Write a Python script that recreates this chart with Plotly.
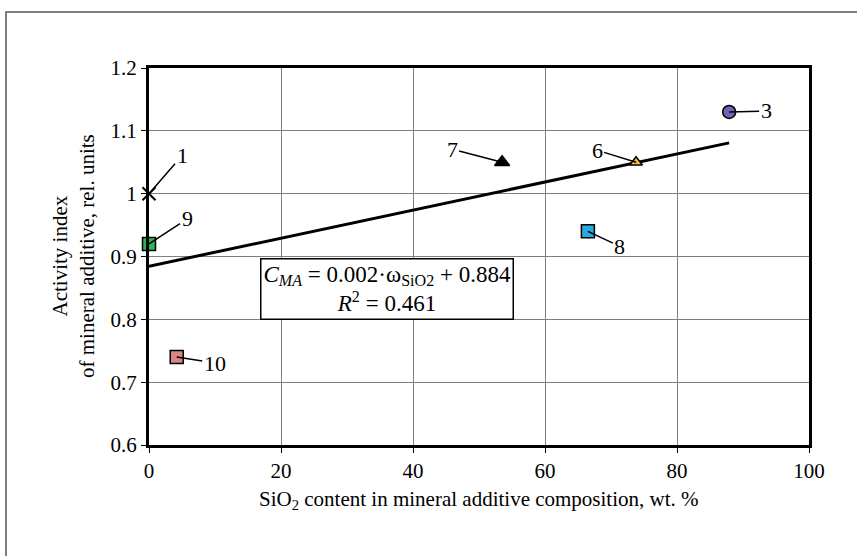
import numpy as np
import plotly.graph_objects as go

# Data
labels = ["1", "9", "10", "7", "6", "8", "3"]
sio2 = [0.0, 0.0, 4.2, 53.5, 73.8, 66.5, 87.9]
activity = [1.00, 0.92, 0.74, 1.05, 1.05, 0.94, 1.13]
symbols = ["x-thin", "square", "square", "triangle-up", "triangle-up", "square", "circle"]
colors = ["#000000", "#2fb35a", "#d98585", "#000000", "#f2c230", "#2aa9e0", "#7461b0"]
sizes = [13, 13, 13, 13, 11, 13, 13]
# label offsets (pixels) for callouts
label_dx = [33, 38, 38, -50, -39, 32, 37]
label_dy = [-38, -25, 6, -13, -12, 15, -1]

x_ticks = [0, 20, 40, 60, 80, 100]
y_ticks = [0.6, 0.7, 0.8, 0.9, 1.0, 1.1, 1.2]
y_ticktext = ["0.6", "0.7", "0.8", "0.9", "1", "1.1", "1.2"]

slope, intercept = np.polyfit(sio2, activity, 1)
x_fit = np.array([0.0, max(sio2)])
y_fit = slope * x_fit + intercept

FONT = "Liberation Serif, Times New Roman, serif"

fig = go.Figure()
fig.add_trace(go.Scatter(x=x_fit, y=y_fit, mode="lines",
                         line=dict(color="black", width=3), hoverinfo="skip"))
for i in range(len(sio2)):
    if symbols[i] == "x-thin":
        marker = dict(symbol="x-thin", size=sizes[i], color="black",
                      line=dict(color="black", width=2))
    else:
        marker = dict(symbol=symbols[i], size=sizes[i], color=colors[i],
                      line=dict(color="black", width=1.5))
    fig.add_trace(go.Scatter(x=[sio2[i]], y=[activity[i]], mode="markers",
                             marker=marker, cliponaxis=False))
    fig.add_annotation(x=sio2[i], y=activity[i], text=labels[i], showarrow=True,
                       arrowhead=0, arrowwidth=1.5, arrowcolor="black",
                       ax=label_dx[i], ay=label_dy[i], standoff=0,
                       font=dict(family=FONT, size=22, color="black"))

# equation box
fig.add_annotation(xref="paper", yref="paper", x=(387 - 149) / 660, y=1 - (289 - 68) / 377,
                   xanchor="center", yanchor="middle",
                   text="<i>C<sub>MA</sub></i> = 0.002·ω<sub>SiO2</sub> + 0.884<br><i>R</i><sup>2</sup> = 0.461",
                   showarrow=False, bgcolor="white", bordercolor="black", borderwidth=1.5,
                   borderpad=2, font=dict(family=FONT, size=23, color="black"))

# y title
fig.add_annotation(xref="paper", yref="paper", x=(74 - 149) / 660, y=1 - (256 - 68) / 377,
                   xanchor="center", yanchor="middle",
                   text="Activity index<br>of mineral additive, rel. units", textangle=-90,
                   showarrow=False, font=dict(family=FONT, size=21, color="black"))
# x title
fig.add_annotation(xref="paper", yref="paper", x=(479 - 149) / 660, y=1 - (500 - 68) / 377,
                   xanchor="center", yanchor="middle",
                   text="SiO<sub>2</sub> content in mineral additive composition, wt. %",
                   showarrow=False, font=dict(family=FONT, size=21, color="black"))

# outer frame
fig.add_shape(type="rect", xref="paper", yref="paper",
              x0=(6 - 149) / 660, x1=1.3, y0=-0.6, y1=1 + (68 - 12) / 377,
              line=dict(color="#555555", width=1.5), layer="below")

axis_common = dict(showline=True, linecolor="black", linewidth=3, mirror=True,
                   showgrid=True, gridcolor="#7f7f7f", gridwidth=1, zeroline=False,
                   ticks="outside", ticklen=5, tickcolor="black", tickwidth=1,
                   tickfont=dict(family=FONT, size=21, color="black"))
fig.update_xaxes(range=[0, 100], tickvals=x_ticks, **axis_common)
fig.update_yaxes(range=[0.6, 1.2], tickvals=y_ticks, ticktext=y_ticktext, **axis_common)

fig.update_layout(width=857, height=556, showlegend=False,
                  margin=dict(l=149, r=48, t=68, b=111),
                  paper_bgcolor="white", plot_bgcolor="white",
                  font=dict(family=FONT))
fig.write_html("out.html", config={"displayModeBar": False},
               post_script="document.body.style.margin='0px';document.body.style.overflow='hidden';")
